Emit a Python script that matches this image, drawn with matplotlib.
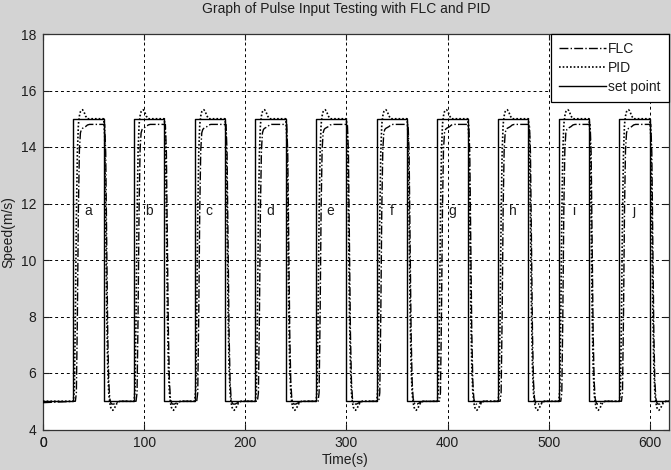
import matplotlib
matplotlib.use('Agg')
import matplotlib.pyplot as plt

plt.rcParams['font.family'] = ['Liberation Sans', 'DejaVu Sans']

# ---------------- data ----------------
pulse_starts = [30, 90, 150, 210, 270, 330, 390, 450, 510, 570]
pulse_labels = ['a', 'b', 'c', 'd', 'e', 'f', 'g', 'h', 'i', 'j']
pulse_width = 30
low_level = 5.0
high_level = 15.0

# response shape read from one pulse (offset in s from the pulse start)
tmpl_t = [0, 1, 2, 3, 4, 5, 6, 7, 8, 9, 10, 11, 12, 13, 14, 16, 20, 25,
          30, 31, 32, 33, 34, 35, 36, 37, 38, 39, 40, 41, 42, 43, 44, 46, 50, 55, 59.9]
pid_vals = [5.0, 5.4, 8.0, 11.5, 13.8, 14.8, 15.1, 15.25, 15.3, 15.32, 15.28, 15.2, 15.1, 15.05, 15.0,
            15.0, 15.0, 15.0,
            15.0, 14.4, 11.5, 8.2, 6.2, 5.3, 4.95, 4.78, 4.7, 4.68, 4.72, 4.78, 4.85, 4.92, 4.97,
            5.0, 5.0, 5.0, 5.0]
flc_vals = [5.0, 5.0, 5.0, 5.3, 8.0, 11.8, 13.9, 14.5, 14.62, 14.66, 14.68, 14.7, 14.72, 14.75, 14.78,
            14.8, 14.8, 14.8,
            14.8, 14.8, 13.8, 10.5, 7.4, 5.7, 5.1, 4.95, 4.9, 4.9, 4.9, 4.92, 4.94, 4.96, 4.98,
            5.0, 5.0, 5.0, 5.0]

x_ticks = [0, 100, 200, 300, 400, 500, 600]
y_ticks = [4, 6, 8, 10, 12, 14, 16, 18]
label_offset = 14.5
label_level = 11.75

# ---------------- build series ----------------
t = [0.0]
pid = [low_level]
flc = [4.95]
for s in pulse_starts:
    t += [s + o for o in tmpl_t]
    pid += pid_vals
    flc += flc_vals

sp_t = [0.0]
sp_v = [low_level]
for s in pulse_starts:
    sp_t += [s, s, s + pulse_width, s + pulse_width]
    sp_v += [low_level, high_level, high_level, low_level]
sp_t.append(640)
sp_v.append(low_level)

# ---------------- figure ----------------
bg = '#d3d3d3'
txt = '#1e1e1e'
fig = plt.figure(figsize=(6.71, 4.70), dpi=100, facecolor=bg)
W, H = 671, 470
ax = fig.add_axes([43 / W, 1 - 429.5 / H, (669 - 43) / W, (429.5 - 34) / H])
ax.set_facecolor('white')

ax.plot(t, flc, color='black', linestyle='-.', linewidth=1.0, label='FLC', zorder=3)
ax.plot(t, pid, color='black', linestyle=(0, (1, 1.2)), linewidth=1.2, label='PID', zorder=3)
ax.plot(sp_t, sp_v, color='black', linestyle='-', linewidth=1.0, label='set point', zorder=4)

for s, lab in zip(pulse_starts, pulse_labels):
    ax.text(s + label_offset, label_level, lab, ha='center', va='center', fontsize=10, color=txt)

ax.set_xlim(18.2, 619)
ax.set_ylim(4, 18)
ax.set_xticks(x_ticks)
ax.set_yticks(y_ticks)
ax.tick_params(direction='in', length=4, width=0.8, colors=txt, labelsize=10,
               top=True, right=True, pad=5)
ax.grid(True, color='black', linestyle=(0, (3, 3)), linewidth=0.7)
for sp in ax.spines.values():
    sp.set_color('#333333')
    sp.set_linewidth(0.9)

# the "0" x tick label sits left of the axes in the reference
ax.annotate('0', xy=(0, 0), xycoords=('data', 'axes fraction'), xytext=(0, -5),
            textcoords='offset points', ha='center', va='top', fontsize=10,
            color=txt, annotation_clip=False)

ax.set_xlabel('Time(s)', fontsize=10, color=txt)
ax.set_ylabel('Speed(m/s)', fontsize=10, color=txt)
ax.xaxis.set_label_coords((345 - 43) / (669 - 43), -0.06)
ax.yaxis.set_label_coords(-0.045, 0.5)

fig.text(346 / W, 1 - 9 / H, 'Graph of Pulse Input Testing with FLC and PID',
         ha='center', va='center', fontsize=10, color=txt)

leg = ax.legend(loc='upper right', borderaxespad=0, fancybox=False, framealpha=1,
                edgecolor='black', fontsize=10, handlelength=3.4, handletextpad=0.15,
                labelspacing=0.35, borderpad=0.6)
leg.get_frame().set_linewidth(0.9)
for tx in leg.get_texts():
    tx.set_color(txt)

fig.savefig('out.png', dpi=100, facecolor=bg)
